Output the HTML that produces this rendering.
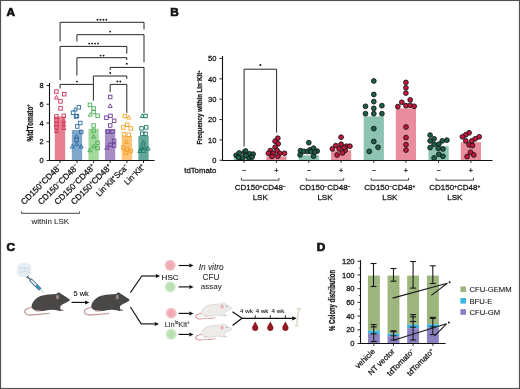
<!DOCTYPE html>
<html><head><meta charset="utf-8"><title>Figure</title><style>
html,body{margin:0;padding:0;background:#fff;}
body{width:520px;height:389px;overflow:hidden;}
svg{display:block;font-family:"Liberation Sans", sans-serif;filter:blur(0.3px);}
text{stroke:#151515;stroke-width:0.26px;}
</style></head><body>
<svg width="520" height="389" viewBox="0 0 520 389">
<rect x="0" y="0" width="520" height="389" fill="#fff"/>
<rect x="54.85" y="116.50" width="10.30" height="44.00" fill="#e9808f"/>
<rect x="71.85" y="130.00" width="10.30" height="30.50" fill="#7fa7cc"/>
<rect x="88.45" y="128.80" width="10.30" height="31.70" fill="#a3d99d"/>
<rect x="104.95" y="129.00" width="10.30" height="31.50" fill="#a68dc4"/>
<rect x="121.75" y="136.00" width="10.30" height="24.50" fill="#fdc376"/>
<rect x="138.35" y="136.00" width="10.30" height="24.50" fill="#62a898"/>
<rect x="54.65" y="89.85" width="3.5" height="3.5" fill="none" stroke="#d0345a" stroke-width="0.9"/>
<rect x="62.45" y="92.45" width="3.5" height="3.5" fill="none" stroke="#d0345a" stroke-width="0.9"/>
<path d="M56.40,95.30 L58.40,99.00 L54.40,99.00 Z" fill="none" stroke="#d0345a" stroke-width="0.9" stroke-linejoin="round"/>
<rect x="58.75" y="99.65" width="3.5" height="3.5" fill="none" stroke="#d0345a" stroke-width="0.9"/>
<rect x="58.75" y="106.65" width="3.5" height="3.5" fill="none" stroke="#d0345a" stroke-width="0.9"/>
<rect x="54.65" y="114.65" width="3.5" height="3.5" fill="none" stroke="#d0345a" stroke-width="0.9"/>
<rect x="62.05" y="114.05" width="3.5" height="3.5" fill="none" stroke="#d0345a" stroke-width="0.9"/>
<rect x="54.65" y="118.55" width="3.5" height="3.5" fill="none" stroke="#d0345a" stroke-width="0.9"/>
<path d="M63.80,119.00 L65.80,122.70 L61.80,122.70 Z" fill="none" stroke="#d0345a" stroke-width="0.9" stroke-linejoin="round"/>
<rect x="54.65" y="122.35" width="3.5" height="3.5" fill="none" stroke="#d0345a" stroke-width="0.9"/>
<path d="M63.80,122.30 L65.80,126.00 L61.80,126.00 Z" fill="none" stroke="#d0345a" stroke-width="0.9" stroke-linejoin="round"/>
<rect x="54.65" y="125.65" width="3.5" height="3.5" fill="none" stroke="#d0345a" stroke-width="0.9"/>
<path d="M63.80,125.80 L65.80,129.50 L61.80,129.50 Z" fill="none" stroke="#d0345a" stroke-width="0.9" stroke-linejoin="round"/>
<path d="M56.40,128.80 L58.40,132.50 L54.40,132.50 Z" fill="none" stroke="#d0345a" stroke-width="0.9" stroke-linejoin="round"/>
<rect x="77.05" y="105.55" width="3.5" height="3.5" fill="none" stroke="#2d6a9f" stroke-width="0.9"/>
<path d="M75.20,107.40 L77.20,111.10 L73.20,111.10 Z" fill="none" stroke="#2d6a9f" stroke-width="0.9" stroke-linejoin="round"/>
<rect x="71.35" y="110.95" width="3.5" height="3.5" fill="none" stroke="#2d6a9f" stroke-width="0.9"/>
<rect x="75.15" y="114.25" width="3.5" height="3.5" fill="none" stroke="#2d6a9f" stroke-width="0.9"/>
<rect x="78.55" y="121.25" width="3.5" height="3.5" fill="none" stroke="#2d6a9f" stroke-width="0.9"/>
<rect x="75.45" y="124.75" width="3.5" height="3.5" fill="none" stroke="#2d6a9f" stroke-width="0.9"/>
<rect x="79.45" y="130.15" width="3.5" height="3.5" fill="none" stroke="#2d6a9f" stroke-width="0.9"/>
<path d="M76.60,134.50 L78.60,138.20 L74.60,138.20 Z" fill="none" stroke="#2d6a9f" stroke-width="0.9" stroke-linejoin="round"/>
<rect x="74.85" y="138.05" width="3.5" height="3.5" fill="none" stroke="#2d6a9f" stroke-width="0.9"/>
<path d="M72.30,144.40 L74.30,148.10 L70.30,148.10 Z" fill="none" stroke="#2d6a9f" stroke-width="0.9" stroke-linejoin="round"/>
<path d="M76.80,141.80 L78.80,145.50 L74.80,145.50 Z" fill="none" stroke="#2d6a9f" stroke-width="0.9" stroke-linejoin="round"/>
<path d="M81.20,144.40 L83.20,148.10 L79.20,148.10 Z" fill="none" stroke="#2d6a9f" stroke-width="0.9" stroke-linejoin="round"/>
<rect x="74.25" y="114.65" width="3.5" height="3.5" fill="none" stroke="#2d6a9f" stroke-width="0.9"/>
<rect x="88.15" y="103.15" width="3.5" height="3.5" fill="none" stroke="#4cae55" stroke-width="0.9"/>
<rect x="91.85" y="106.75" width="3.5" height="3.5" fill="none" stroke="#4cae55" stroke-width="0.9"/>
<rect x="91.85" y="110.25" width="3.5" height="3.5" fill="none" stroke="#4cae55" stroke-width="0.9"/>
<path d="M90.20,112.50 L92.20,116.20 L88.20,116.20 Z" fill="none" stroke="#4cae55" stroke-width="0.9" stroke-linejoin="round"/>
<rect x="95.85" y="113.95" width="3.5" height="3.5" fill="none" stroke="#4cae55" stroke-width="0.9"/>
<rect x="91.85" y="123.75" width="3.5" height="3.5" fill="none" stroke="#4cae55" stroke-width="0.9"/>
<rect x="91.85" y="128.85" width="3.5" height="3.5" fill="none" stroke="#4cae55" stroke-width="0.9"/>
<path d="M93.60,134.50 L95.60,138.20 L91.60,138.20 Z" fill="none" stroke="#4cae55" stroke-width="0.9" stroke-linejoin="round"/>
<rect x="95.85" y="141.15" width="3.5" height="3.5" fill="none" stroke="#4cae55" stroke-width="0.9"/>
<path d="M93.60,144.10 L95.60,147.80 L91.60,147.80 Z" fill="none" stroke="#4cae55" stroke-width="0.9" stroke-linejoin="round"/>
<rect x="95.85" y="146.35" width="3.5" height="3.5" fill="none" stroke="#4cae55" stroke-width="0.9"/>
<path d="M89.90,148.00 L91.90,151.70 L87.90,151.70 Z" fill="none" stroke="#4cae55" stroke-width="0.9" stroke-linejoin="round"/>
<rect x="108.45" y="95.25" width="3.5" height="3.5" fill="none" stroke="#6b3d98" stroke-width="0.9"/>
<path d="M110.20,103.80 L112.20,107.50 L108.20,107.50 Z" fill="none" stroke="#6b3d98" stroke-width="0.9" stroke-linejoin="round"/>
<rect x="104.65" y="115.95" width="3.5" height="3.5" fill="none" stroke="#6b3d98" stroke-width="0.9"/>
<rect x="108.75" y="114.15" width="3.5" height="3.5" fill="none" stroke="#6b3d98" stroke-width="0.9"/>
<rect x="112.35" y="119.05" width="3.5" height="3.5" fill="none" stroke="#6b3d98" stroke-width="0.9"/>
<rect x="108.45" y="123.75" width="3.5" height="3.5" fill="none" stroke="#6b3d98" stroke-width="0.9"/>
<rect x="106.15" y="129.85" width="3.5" height="3.5" fill="none" stroke="#6b3d98" stroke-width="0.9"/>
<rect x="110.75" y="129.85" width="3.5" height="3.5" fill="none" stroke="#6b3d98" stroke-width="0.9"/>
<rect x="112.35" y="139.15" width="3.5" height="3.5" fill="none" stroke="#6b3d98" stroke-width="0.9"/>
<rect x="112.35" y="143.75" width="3.5" height="3.5" fill="none" stroke="#6b3d98" stroke-width="0.9"/>
<rect x="108.75" y="143.05" width="3.5" height="3.5" fill="none" stroke="#6b3d98" stroke-width="0.9"/>
<path d="M106.80,145.60 L108.80,149.30 L104.80,149.30 Z" fill="none" stroke="#6b3d98" stroke-width="0.9" stroke-linejoin="round"/>
<rect x="123.05" y="114.25" width="3.5" height="3.5" fill="none" stroke="#f5a128" stroke-width="0.9"/>
<path d="M128.80,115.30 L130.80,119.00 L126.80,119.00 Z" fill="none" stroke="#f5a128" stroke-width="0.9" stroke-linejoin="round"/>
<rect x="125.45" y="122.95" width="3.5" height="3.5" fill="none" stroke="#f5a128" stroke-width="0.9"/>
<rect x="121.45" y="125.65" width="3.5" height="3.5" fill="none" stroke="#f5a128" stroke-width="0.9"/>
<rect x="128.95" y="126.65" width="3.5" height="3.5" fill="none" stroke="#f5a128" stroke-width="0.9"/>
<rect x="122.25" y="132.55" width="3.5" height="3.5" fill="none" stroke="#f5a128" stroke-width="0.9"/>
<rect x="127.05" y="133.05" width="3.5" height="3.5" fill="none" stroke="#f5a128" stroke-width="0.9"/>
<path d="M126.40,139.60 L128.40,143.30 L124.40,143.30 Z" fill="none" stroke="#f5a128" stroke-width="0.9" stroke-linejoin="round"/>
<rect x="121.45" y="145.75" width="3.5" height="3.5" fill="none" stroke="#f5a128" stroke-width="0.9"/>
<rect x="125.45" y="147.65" width="3.5" height="3.5" fill="none" stroke="#f5a128" stroke-width="0.9"/>
<rect x="128.95" y="149.25" width="3.5" height="3.5" fill="none" stroke="#f5a128" stroke-width="0.9"/>
<rect x="124.15" y="150.85" width="3.5" height="3.5" fill="none" stroke="#f5a128" stroke-width="0.9"/>
<path d="M142.30,113.80 L144.30,117.50 L140.30,117.50 Z" fill="none" stroke="#1f7a67" stroke-width="0.9" stroke-linejoin="round"/>
<rect x="143.75" y="114.25" width="3.5" height="3.5" fill="none" stroke="#1f7a67" stroke-width="0.9"/>
<rect x="139.75" y="126.65" width="3.5" height="3.5" fill="none" stroke="#1f7a67" stroke-width="0.9"/>
<rect x="144.55" y="125.65" width="3.5" height="3.5" fill="none" stroke="#1f7a67" stroke-width="0.9"/>
<rect x="140.55" y="132.05" width="3.5" height="3.5" fill="none" stroke="#1f7a67" stroke-width="0.9"/>
<rect x="143.75" y="132.05" width="3.5" height="3.5" fill="none" stroke="#1f7a67" stroke-width="0.9"/>
<path d="M143.40,140.50 L145.40,144.20 L141.40,144.20 Z" fill="none" stroke="#1f7a67" stroke-width="0.9" stroke-linejoin="round"/>
<path d="M141.50,145.60 L143.50,149.30 L139.50,149.30 Z" fill="none" stroke="#1f7a67" stroke-width="0.9" stroke-linejoin="round"/>
<path d="M144.70,145.60 L146.70,149.30 L142.70,149.30 Z" fill="none" stroke="#1f7a67" stroke-width="0.9" stroke-linejoin="round"/>
<path d="M148.20,146.40 L150.20,150.10 L146.20,150.10 Z" fill="none" stroke="#1f7a67" stroke-width="0.9" stroke-linejoin="round"/>
<path d="M139.90,148.80 L141.90,152.50 L137.90,152.50 Z" fill="none" stroke="#1f7a67" stroke-width="0.9" stroke-linejoin="round"/>
<rect x="141.65" y="148.95" width="3.5" height="3.5" fill="none" stroke="#1f7a67" stroke-width="0.9"/>
<line x1="49.50" y1="83.00" x2="49.50" y2="161.00" stroke="#111" stroke-width="1.1"/>
<line x1="49.00" y1="160.50" x2="154.50" y2="160.50" stroke="#111" stroke-width="1.1"/>
<line x1="46.50" y1="160.50" x2="49.50" y2="160.50" stroke="#111" stroke-width="0.9"/>
<text x="43.60" y="163.10" font-size="7.4" text-anchor="end" fill="#151515" >0</text>
<line x1="46.50" y1="141.75" x2="49.50" y2="141.75" stroke="#111" stroke-width="0.9"/>
<text x="43.60" y="144.35" font-size="7.4" text-anchor="end" fill="#151515" >2</text>
<line x1="46.50" y1="123.00" x2="49.50" y2="123.00" stroke="#111" stroke-width="0.9"/>
<text x="43.60" y="125.60" font-size="7.4" text-anchor="end" fill="#151515" >4</text>
<line x1="46.50" y1="104.25" x2="49.50" y2="104.25" stroke="#111" stroke-width="0.9"/>
<text x="43.60" y="106.85" font-size="7.4" text-anchor="end" fill="#151515" >6</text>
<line x1="46.50" y1="85.50" x2="49.50" y2="85.50" stroke="#111" stroke-width="0.9"/>
<text x="43.60" y="88.10" font-size="7.4" text-anchor="end" fill="#151515" >8</text>
<line x1="60.00" y1="160.50" x2="60.00" y2="163.10" stroke="#111" stroke-width="0.9"/>
<line x1="77.00" y1="160.50" x2="77.00" y2="163.10" stroke="#111" stroke-width="0.9"/>
<line x1="93.60" y1="160.50" x2="93.60" y2="163.10" stroke="#111" stroke-width="0.9"/>
<line x1="110.10" y1="160.50" x2="110.10" y2="163.10" stroke="#111" stroke-width="0.9"/>
<line x1="126.90" y1="160.50" x2="126.90" y2="163.10" stroke="#111" stroke-width="0.9"/>
<line x1="143.50" y1="160.50" x2="143.50" y2="163.10" stroke="#111" stroke-width="0.9"/>
<text transform="translate(32.7,141.4) rotate(-90)" font-size="8.2" font-weight="bold" fill="#151515" textLength="37" lengthAdjust="spacingAndGlyphs">%tdTomato<tspan font-size="4.8" dy="-3">+</tspan></text>
<polyline points="60.10,41.50 60.10,22.30 144.00,22.30 144.00,29.60" fill="none" stroke="#262626" stroke-width="1.0"/>
<polyline points="76.90,41.50 76.90,34.70 144.00,34.70 144.00,62.30" fill="none" stroke="#262626" stroke-width="1.0"/>
<polyline points="60.10,80.20 60.10,46.40 126.80,46.40 126.80,53.70" fill="none" stroke="#262626" stroke-width="1.0"/>
<polyline points="76.90,75.60 76.90,57.70 126.80,57.70 126.80,60.00" fill="none" stroke="#262626" stroke-width="1.0"/>
<polyline points="110.20,70.10 110.20,67.40 144.00,67.40 144.00,112.80" fill="none" stroke="#262626" stroke-width="1.0"/>
<polyline points="93.40,84.40 93.40,76.00 126.80,76.00 126.80,78.90" fill="none" stroke="#262626" stroke-width="1.0"/>
<polyline points="60.10,88.40 60.10,84.40 93.40,84.40 93.40,100.70" fill="none" stroke="#262626" stroke-width="1.0"/>
<polyline points="110.20,92.00 110.20,84.40 126.80,84.40 126.80,112.80" fill="none" stroke="#262626" stroke-width="1.0"/>
<circle cx="97.48" cy="19.80" r="0.95" fill="#151515"/>
<circle cx="100.43" cy="19.80" r="0.95" fill="#151515"/>
<circle cx="103.38" cy="19.80" r="0.95" fill="#151515"/>
<circle cx="106.33" cy="19.80" r="0.95" fill="#151515"/>
<circle cx="110.20" cy="31.60" r="0.95" fill="#151515"/>
<circle cx="89.17" cy="43.60" r="0.95" fill="#151515"/>
<circle cx="92.12" cy="43.60" r="0.95" fill="#151515"/>
<circle cx="95.08" cy="43.60" r="0.95" fill="#151515"/>
<circle cx="98.03" cy="43.60" r="0.95" fill="#151515"/>
<circle cx="100.62" cy="55.60" r="0.95" fill="#151515"/>
<circle cx="103.58" cy="55.60" r="0.95" fill="#151515"/>
<circle cx="126.80" cy="63.80" r="0.95" fill="#151515"/>
<circle cx="110.20" cy="73.00" r="0.95" fill="#151515"/>
<circle cx="76.90" cy="81.60" r="0.95" fill="#151515"/>
<circle cx="117.33" cy="81.50" r="0.95" fill="#151515"/>
<circle cx="120.28" cy="81.50" r="0.95" fill="#151515"/>
<text transform="translate(61.90,167.60) rotate(-45)" font-size="8.4" text-anchor="end" fill="#151515"><tspan dy="0">CD150</tspan><tspan font-size="5.0" dy="-2.9">+</tspan><tspan dy="2.9">CD48</tspan><tspan font-size="5.0" dy="-2.9">−</tspan></text>
<text transform="translate(78.90,167.60) rotate(-45)" font-size="8.4" text-anchor="end" fill="#151515"><tspan dy="0">CD150</tspan><tspan font-size="5.0" dy="-2.9">−</tspan><tspan dy="2.9">CD48</tspan><tspan font-size="5.0" dy="-2.9">−</tspan></text>
<text transform="translate(95.50,167.60) rotate(-45)" font-size="8.4" text-anchor="end" fill="#151515"><tspan dy="0">CD150</tspan><tspan font-size="5.0" dy="-2.9">−</tspan><tspan dy="2.9">CD48</tspan><tspan font-size="5.0" dy="-2.9">+</tspan></text>
<text transform="translate(112.00,167.60) rotate(-45)" font-size="8.4" text-anchor="end" fill="#151515"><tspan dy="0">CD150</tspan><tspan font-size="5.0" dy="-2.9">+</tspan><tspan dy="2.9">CD48</tspan><tspan font-size="5.0" dy="-2.9">+</tspan></text>
<text transform="translate(128.80,167.60) rotate(-45)" font-size="8.4" text-anchor="end" fill="#151515" textLength="41.5" lengthAdjust="spacingAndGlyphs"><tspan dy="0">Lin</tspan><tspan font-size="5.0" dy="-2.9">−</tspan><tspan dy="2.9">Kit</tspan><tspan font-size="5.0" dy="-2.9">+</tspan><tspan dy="2.9">Sca</tspan><tspan font-size="5.0" dy="-2.9">−</tspan></text>
<text transform="translate(145.40,167.60) rotate(-45)" font-size="8.4" text-anchor="end" fill="#151515" textLength="25.3" lengthAdjust="spacingAndGlyphs"><tspan dy="0">Lin</tspan><tspan font-size="5.0" dy="-2.9">−</tspan><tspan dy="2.9">Kit</tspan><tspan font-size="5.0" dy="-2.9">+</tspan></text>
<polyline points="21.50,211.50 21.50,213.30 79.50,213.30 79.50,211.50" fill="none" stroke="#333" stroke-width="0.9"/>
<text x="50.30" y="224.00" font-size="8.0" text-anchor="middle" fill="#151515" style="stroke-width:0.04px">within LSK</text>
<rect x="233.90" y="154.60" width="20.20" height="5.65" fill="#8cc3b2"/>
<rect x="266.30" y="156.40" width="20.20" height="3.85" fill="#e98c9c"/>
<rect x="298.70" y="155.30" width="20.20" height="4.95" fill="#8cc3b2"/>
<rect x="331.00" y="150.30" width="20.20" height="9.95" fill="#e98c9c"/>
<rect x="363.70" y="116.40" width="20.20" height="43.85" fill="#8cc3b2"/>
<rect x="395.80" y="108.40" width="20.20" height="51.85" fill="#e98c9c"/>
<rect x="428.50" y="146.20" width="20.20" height="14.05" fill="#8cc3b2"/>
<rect x="460.80" y="142.20" width="20.20" height="18.05" fill="#e98c9c"/>
<polyline points="244.10,146.50 244.10,69.20 276.60,69.20 276.60,132.50" fill="none" stroke="#262626" stroke-width="1.0"/>
<circle cx="260.4" cy="65.0" r="1.05" fill="#151515"/>
<circle cx="236.10" cy="155.30" r="2.4" fill="#1d6049" stroke="#111" stroke-width="0.85"/>
<circle cx="239.20" cy="153.00" r="2.4" fill="#1d6049" stroke="#111" stroke-width="0.85"/>
<circle cx="244.40" cy="152.40" r="2.4" fill="#1d6049" stroke="#111" stroke-width="0.85"/>
<circle cx="245.60" cy="151.00" r="2.4" fill="#1d6049" stroke="#111" stroke-width="0.85"/>
<circle cx="249.60" cy="153.80" r="2.4" fill="#1d6049" stroke="#111" stroke-width="0.85"/>
<circle cx="253.10" cy="154.10" r="2.4" fill="#1d6049" stroke="#111" stroke-width="0.85"/>
<circle cx="242.40" cy="157.90" r="2.4" fill="#1d6049" stroke="#111" stroke-width="0.85"/>
<circle cx="249.00" cy="157.90" r="2.4" fill="#1d6049" stroke="#111" stroke-width="0.85"/>
<circle cx="238.50" cy="157.50" r="2.4" fill="#1d6049" stroke="#111" stroke-width="0.85"/>
<circle cx="246.00" cy="155.50" r="2.4" fill="#1d6049" stroke="#111" stroke-width="0.85"/>
<circle cx="252.00" cy="157.00" r="2.4" fill="#1d6049" stroke="#111" stroke-width="0.85"/>
<circle cx="308.80" cy="142.70" r="2.4" fill="#1d6049" stroke="#111" stroke-width="0.85"/>
<circle cx="300.50" cy="150.70" r="2.4" fill="#1d6049" stroke="#111" stroke-width="0.85"/>
<circle cx="303.70" cy="151.40" r="2.4" fill="#1d6049" stroke="#111" stroke-width="0.85"/>
<circle cx="307.50" cy="151.40" r="2.4" fill="#1d6049" stroke="#111" stroke-width="0.85"/>
<circle cx="310.10" cy="149.80" r="2.4" fill="#1d6049" stroke="#111" stroke-width="0.85"/>
<circle cx="313.60" cy="148.20" r="2.4" fill="#1d6049" stroke="#111" stroke-width="0.85"/>
<circle cx="317.20" cy="151.10" r="2.4" fill="#1d6049" stroke="#111" stroke-width="0.85"/>
<circle cx="300.10" cy="154.90" r="2.4" fill="#1d6049" stroke="#111" stroke-width="0.85"/>
<circle cx="313.60" cy="156.20" r="2.4" fill="#1d6049" stroke="#111" stroke-width="0.85"/>
<circle cx="311.00" cy="151.70" r="2.4" fill="#1d6049" stroke="#111" stroke-width="0.85"/>
<circle cx="314.90" cy="152.00" r="2.4" fill="#1d6049" stroke="#111" stroke-width="0.85"/>
<circle cx="373.80" cy="81.00" r="2.4" fill="#1d6049" stroke="#111" stroke-width="0.85"/>
<circle cx="373.80" cy="94.50" r="2.4" fill="#1d6049" stroke="#111" stroke-width="0.85"/>
<circle cx="373.80" cy="101.60" r="2.4" fill="#1d6049" stroke="#111" stroke-width="0.85"/>
<circle cx="365.50" cy="106.30" r="2.4" fill="#1d6049" stroke="#111" stroke-width="0.85"/>
<circle cx="373.80" cy="108.40" r="2.4" fill="#1d6049" stroke="#111" stroke-width="0.85"/>
<circle cx="381.90" cy="105.70" r="2.4" fill="#1d6049" stroke="#111" stroke-width="0.85"/>
<circle cx="365.50" cy="113.70" r="2.4" fill="#1d6049" stroke="#111" stroke-width="0.85"/>
<circle cx="373.80" cy="113.70" r="2.4" fill="#1d6049" stroke="#111" stroke-width="0.85"/>
<circle cx="381.90" cy="113.70" r="2.4" fill="#1d6049" stroke="#111" stroke-width="0.85"/>
<circle cx="373.80" cy="128.60" r="2.4" fill="#1d6049" stroke="#111" stroke-width="0.85"/>
<circle cx="373.80" cy="141.50" r="2.4" fill="#1d6049" stroke="#111" stroke-width="0.85"/>
<circle cx="378.00" cy="147.30" r="2.4" fill="#1d6049" stroke="#111" stroke-width="0.85"/>
<circle cx="369.30" cy="151.40" r="2.4" fill="#1d6049" stroke="#111" stroke-width="0.85"/>
<circle cx="430.10" cy="135.10" r="2.4" fill="#1d6049" stroke="#111" stroke-width="0.85"/>
<circle cx="434.10" cy="138.80" r="2.4" fill="#1d6049" stroke="#111" stroke-width="0.85"/>
<circle cx="430.10" cy="140.90" r="2.4" fill="#1d6049" stroke="#111" stroke-width="0.85"/>
<circle cx="442.20" cy="140.90" r="2.4" fill="#1d6049" stroke="#111" stroke-width="0.85"/>
<circle cx="446.90" cy="140.20" r="2.4" fill="#1d6049" stroke="#111" stroke-width="0.85"/>
<circle cx="434.10" cy="144.20" r="2.4" fill="#1d6049" stroke="#111" stroke-width="0.85"/>
<circle cx="438.80" cy="144.20" r="2.4" fill="#1d6049" stroke="#111" stroke-width="0.85"/>
<circle cx="430.10" cy="147.60" r="2.4" fill="#1d6049" stroke="#111" stroke-width="0.85"/>
<circle cx="438.20" cy="148.30" r="2.4" fill="#1d6049" stroke="#111" stroke-width="0.85"/>
<circle cx="442.90" cy="149.00" r="2.4" fill="#1d6049" stroke="#111" stroke-width="0.85"/>
<circle cx="438.80" cy="154.30" r="2.4" fill="#1d6049" stroke="#111" stroke-width="0.85"/>
<circle cx="442.90" cy="156.30" r="2.4" fill="#1d6049" stroke="#111" stroke-width="0.85"/>
<circle cx="434.10" cy="158.00" r="2.4" fill="#1d6049" stroke="#111" stroke-width="0.85"/>
<circle cx="277.80" cy="138.20" r="2.4" fill="#c4173d" stroke="#111" stroke-width="0.85"/>
<circle cx="275.10" cy="141.20" r="2.4" fill="#c4173d" stroke="#111" stroke-width="0.85"/>
<circle cx="278.20" cy="143.80" r="2.4" fill="#c4173d" stroke="#111" stroke-width="0.85"/>
<circle cx="275.10" cy="147.20" r="2.4" fill="#c4173d" stroke="#111" stroke-width="0.85"/>
<circle cx="270.40" cy="150.60" r="2.4" fill="#c4173d" stroke="#111" stroke-width="0.85"/>
<circle cx="277.10" cy="150.60" r="2.4" fill="#c4173d" stroke="#111" stroke-width="0.85"/>
<circle cx="268.40" cy="153.30" r="2.4" fill="#c4173d" stroke="#111" stroke-width="0.85"/>
<circle cx="273.10" cy="153.30" r="2.4" fill="#c4173d" stroke="#111" stroke-width="0.85"/>
<circle cx="279.80" cy="153.30" r="2.4" fill="#c4173d" stroke="#111" stroke-width="0.85"/>
<circle cx="284.50" cy="153.30" r="2.4" fill="#c4173d" stroke="#111" stroke-width="0.85"/>
<circle cx="277.80" cy="156.20" r="2.4" fill="#c4173d" stroke="#111" stroke-width="0.85"/>
<circle cx="272.00" cy="156.40" r="2.4" fill="#c4173d" stroke="#111" stroke-width="0.85"/>
<circle cx="341.10" cy="137.20" r="2.4" fill="#c4173d" stroke="#111" stroke-width="0.85"/>
<circle cx="335.80" cy="145.60" r="2.4" fill="#c4173d" stroke="#111" stroke-width="0.85"/>
<circle cx="341.10" cy="144.20" r="2.4" fill="#c4173d" stroke="#111" stroke-width="0.85"/>
<circle cx="346.50" cy="146.20" r="2.4" fill="#c4173d" stroke="#111" stroke-width="0.85"/>
<circle cx="349.90" cy="146.20" r="2.4" fill="#c4173d" stroke="#111" stroke-width="0.85"/>
<circle cx="332.40" cy="148.90" r="2.4" fill="#c4173d" stroke="#111" stroke-width="0.85"/>
<circle cx="339.10" cy="148.90" r="2.4" fill="#c4173d" stroke="#111" stroke-width="0.85"/>
<circle cx="345.20" cy="150.30" r="2.4" fill="#c4173d" stroke="#111" stroke-width="0.85"/>
<circle cx="342.50" cy="153.00" r="2.4" fill="#c4173d" stroke="#111" stroke-width="0.85"/>
<circle cx="337.10" cy="155.00" r="2.4" fill="#c4173d" stroke="#111" stroke-width="0.85"/>
<circle cx="344.00" cy="147.50" r="2.4" fill="#c4173d" stroke="#111" stroke-width="0.85"/>
<circle cx="405.90" cy="82.40" r="2.4" fill="#c4173d" stroke="#111" stroke-width="0.85"/>
<circle cx="405.90" cy="87.80" r="2.4" fill="#c4173d" stroke="#111" stroke-width="0.85"/>
<circle cx="405.90" cy="93.10" r="2.4" fill="#c4173d" stroke="#111" stroke-width="0.85"/>
<circle cx="401.80" cy="102.30" r="2.4" fill="#c4173d" stroke="#111" stroke-width="0.85"/>
<circle cx="410.20" cy="99.90" r="2.4" fill="#c4173d" stroke="#111" stroke-width="0.85"/>
<circle cx="397.80" cy="106.60" r="2.4" fill="#c4173d" stroke="#111" stroke-width="0.85"/>
<circle cx="405.90" cy="105.70" r="2.4" fill="#c4173d" stroke="#111" stroke-width="0.85"/>
<circle cx="410.20" cy="105.30" r="2.4" fill="#c4173d" stroke="#111" stroke-width="0.85"/>
<circle cx="414.20" cy="106.30" r="2.4" fill="#c4173d" stroke="#111" stroke-width="0.85"/>
<circle cx="406.00" cy="127.00" r="2.4" fill="#c4173d" stroke="#111" stroke-width="0.85"/>
<circle cx="406.00" cy="137.60" r="2.4" fill="#c4173d" stroke="#111" stroke-width="0.85"/>
<circle cx="406.00" cy="144.70" r="2.4" fill="#c4173d" stroke="#111" stroke-width="0.85"/>
<circle cx="406.00" cy="150.10" r="2.4" fill="#c4173d" stroke="#111" stroke-width="0.85"/>
<circle cx="469.10" cy="132.80" r="2.4" fill="#c4173d" stroke="#111" stroke-width="0.85"/>
<circle cx="465.80" cy="134.80" r="2.4" fill="#c4173d" stroke="#111" stroke-width="0.85"/>
<circle cx="462.40" cy="136.80" r="2.4" fill="#c4173d" stroke="#111" stroke-width="0.85"/>
<circle cx="479.20" cy="136.80" r="2.4" fill="#c4173d" stroke="#111" stroke-width="0.85"/>
<circle cx="475.20" cy="138.80" r="2.4" fill="#c4173d" stroke="#111" stroke-width="0.85"/>
<circle cx="465.80" cy="140.90" r="2.4" fill="#c4173d" stroke="#111" stroke-width="0.85"/>
<circle cx="471.80" cy="140.90" r="2.4" fill="#c4173d" stroke="#111" stroke-width="0.85"/>
<circle cx="469.10" cy="144.90" r="2.4" fill="#c4173d" stroke="#111" stroke-width="0.85"/>
<circle cx="472.50" cy="145.60" r="2.4" fill="#c4173d" stroke="#111" stroke-width="0.85"/>
<circle cx="470.50" cy="152.30" r="2.4" fill="#c4173d" stroke="#111" stroke-width="0.85"/>
<circle cx="473.80" cy="155.00" r="2.4" fill="#c4173d" stroke="#111" stroke-width="0.85"/>
<circle cx="467.10" cy="156.60" r="2.4" fill="#c4173d" stroke="#111" stroke-width="0.85"/>
<line x1="222.50" y1="56.00" x2="222.50" y2="161.00" stroke="#111" stroke-width="1.1"/>
<line x1="222.00" y1="160.50" x2="492.50" y2="160.50" stroke="#111" stroke-width="1.1"/>
<line x1="219.50" y1="160.25" x2="222.50" y2="160.25" stroke="#111" stroke-width="0.9"/>
<text x="216.40" y="162.95" font-size="7.5" text-anchor="end" fill="#151515" >0</text>
<line x1="219.50" y1="139.90" x2="222.50" y2="139.90" stroke="#111" stroke-width="0.9"/>
<text x="216.40" y="142.60" font-size="7.5" text-anchor="end" fill="#151515" >10</text>
<line x1="219.50" y1="119.55" x2="222.50" y2="119.55" stroke="#111" stroke-width="0.9"/>
<text x="216.40" y="122.25" font-size="7.5" text-anchor="end" fill="#151515" >20</text>
<line x1="219.50" y1="99.20" x2="222.50" y2="99.20" stroke="#111" stroke-width="0.9"/>
<text x="216.40" y="101.90" font-size="7.5" text-anchor="end" fill="#151515" >30</text>
<line x1="219.50" y1="78.85" x2="222.50" y2="78.85" stroke="#111" stroke-width="0.9"/>
<text x="216.40" y="81.55" font-size="7.5" text-anchor="end" fill="#151515" >40</text>
<line x1="219.50" y1="58.50" x2="222.50" y2="58.50" stroke="#111" stroke-width="0.9"/>
<text x="216.40" y="61.20" font-size="7.5" text-anchor="end" fill="#151515" >50</text>
<line x1="244.00" y1="160.25" x2="244.00" y2="162.85" stroke="#111" stroke-width="0.9"/>
<line x1="276.40" y1="160.25" x2="276.40" y2="162.85" stroke="#111" stroke-width="0.9"/>
<text x="244.00" y="173.20" font-size="7.2" text-anchor="middle" fill="#151515" >−</text>
<text x="276.40" y="173.20" font-size="7.2" text-anchor="middle" fill="#151515" >+</text>
<line x1="308.80" y1="160.25" x2="308.80" y2="162.85" stroke="#111" stroke-width="0.9"/>
<line x1="341.10" y1="160.25" x2="341.10" y2="162.85" stroke="#111" stroke-width="0.9"/>
<text x="308.80" y="173.20" font-size="7.2" text-anchor="middle" fill="#151515" >−</text>
<text x="341.10" y="173.20" font-size="7.2" text-anchor="middle" fill="#151515" >+</text>
<line x1="373.80" y1="160.25" x2="373.80" y2="162.85" stroke="#111" stroke-width="0.9"/>
<line x1="405.90" y1="160.25" x2="405.90" y2="162.85" stroke="#111" stroke-width="0.9"/>
<text x="373.80" y="173.20" font-size="7.2" text-anchor="middle" fill="#151515" >−</text>
<text x="405.90" y="173.20" font-size="7.2" text-anchor="middle" fill="#151515" >+</text>
<line x1="438.60" y1="160.25" x2="438.60" y2="162.85" stroke="#111" stroke-width="0.9"/>
<line x1="470.90" y1="160.25" x2="470.90" y2="162.85" stroke="#111" stroke-width="0.9"/>
<text x="438.60" y="173.20" font-size="7.2" text-anchor="middle" fill="#151515" >−</text>
<text x="470.90" y="173.20" font-size="7.2" text-anchor="middle" fill="#151515" >+</text>
<text x="216.30" y="173.20" font-size="7.8" text-anchor="end" fill="#151515" >tdTomato</text>
<text transform="translate(202.4,144.6) rotate(-90)" font-size="7.2" font-weight="bold" fill="#151515" textLength="74" lengthAdjust="spacingAndGlyphs">Frequency within Lin<tspan font-size="4.4" dy="-2.7">−</tspan><tspan dy="2.7">Kit</tspan><tspan font-size="4.4" dy="-2.7">+</tspan></text>
<polyline points="241.40,178.00 241.40,180.20 279.00,180.20 279.00,178.00" fill="none" stroke="#333" stroke-width="0.9"/>
<text x="260.20" y="190.4" font-size="8.0" text-anchor="middle" fill="#151515">CD150<tspan font-size="4.8" dy="-2.9">+</tspan><tspan dy="2.9">CD48</tspan><tspan font-size="4.8" dy="-2.9">−</tspan></text>
<text x="260.20" y="200.00" font-size="8.0" text-anchor="middle" fill="#151515" >LSK</text>
<polyline points="306.20,178.00 306.20,180.20 343.70,180.20 343.70,178.00" fill="none" stroke="#333" stroke-width="0.9"/>
<text x="324.95" y="190.4" font-size="8.0" text-anchor="middle" fill="#151515">CD150<tspan font-size="4.8" dy="-2.9">−</tspan><tspan dy="2.9">CD48</tspan><tspan font-size="4.8" dy="-2.9">−</tspan></text>
<text x="324.95" y="200.00" font-size="8.0" text-anchor="middle" fill="#151515" >LSK</text>
<polyline points="371.20,178.00 371.20,180.20 408.50,180.20 408.50,178.00" fill="none" stroke="#333" stroke-width="0.9"/>
<text x="389.85" y="190.4" font-size="8.0" text-anchor="middle" fill="#151515">CD150<tspan font-size="4.8" dy="-2.9">−</tspan><tspan dy="2.9">CD48</tspan><tspan font-size="4.8" dy="-2.9">+</tspan></text>
<text x="389.85" y="200.00" font-size="8.0" text-anchor="middle" fill="#151515" >LSK</text>
<polyline points="436.00,178.00 436.00,180.20 473.50,180.20 473.50,178.00" fill="none" stroke="#333" stroke-width="0.9"/>
<text x="454.75" y="190.4" font-size="8.0" text-anchor="middle" fill="#151515">CD150<tspan font-size="4.8" dy="-2.9">+</tspan><tspan dy="2.9">CD48</tspan><tspan font-size="4.8" dy="-2.9">+</tspan></text>
<text x="454.75" y="200.00" font-size="8.0" text-anchor="middle" fill="#151515" >LSK</text>
<text x="6.6" y="16.2" font-size="11.8" font-weight="bold" fill="#111" style="stroke:#111;stroke-width:0.7px">A</text>
<text x="170.2" y="16.2" font-size="11.8" font-weight="bold" fill="#111" style="stroke:#111;stroke-width:0.7px">B</text>
<text x="6.6" y="251.2" font-size="11.8" font-weight="bold" fill="#111" style="stroke:#111;stroke-width:0.7px">C</text>
<text x="316.8" y="251.2" font-size="11.8" font-weight="bold" fill="#111" style="stroke:#111;stroke-width:0.7px">D</text>
<path d="M20.5,263.0 L27.5,262.6 L31.2,266.2 L31.0,273.6 L27.0,277.2 L20.2,277.0 L16.8,273.0 L17.0,266.2 Z" fill="#e6eef4"/>
<path d="M18.5,268.5 L24,267.5 L29.5,268.8 M19.5,272.5 L25,271.2 L30,272.8 M24,267.5 L25,271.2" stroke="#c9d7e3" stroke-width="0.8" fill="none"/>
<line x1="27.4" y1="276.7" x2="30.4" y2="279.7" stroke="#2f3d4c" stroke-width="1.1"/>
<line x1="26.4" y1="278.0" x2="28.6" y2="275.6" stroke="#2f3d4c" stroke-width="0.8"/>
<line x1="30.2" y1="279.5" x2="40.2" y2="289.4" stroke="#35627f" stroke-width="3.4"/>
<line x1="30.9" y1="280.2" x2="36.2" y2="285.4" stroke="#f4f8fb" stroke-width="1.8"/>
<line x1="36.2" y1="285.4" x2="39.7" y2="288.9" stroke="#3a9cc8" stroke-width="1.9"/>
<line x1="40.2" y1="289.4" x2="43.8" y2="292.8" stroke="#7b93ab" stroke-width="0.6"/>
<g transform="translate(31.30,292.90) scale(1.0,1.0)">
<path d="M0.7,14.5 C-3.0,15.0 -6.0,16.0 -6.6,18.3 C-7.0,20.6 -4.5,22.2 -1.2,22.1 C2.5,22.0 6.0,21.5 8.9,21.3 C12.0,21.0 15.0,20.6 17.7,20.5" fill="none" stroke="#c4a29f" stroke-width="1.4" stroke-linecap="round"/>
<path d="M0.3,14.2 C0.2,12.5 0.8,10.5 2.0,8.8 C3.5,6.5 6.5,4.0 10.1,2.8 C13.5,1.8 16.5,1.5 19.0,1.5 C21.5,1.5 23.5,1.3 25.2,1.2 C25.8,0.4 26.5,-0.3 27.3,-0.3 C28.1,-0.3 28.8,0.0 29.2,0.6 C30.5,1.2 31.5,1.8 32.5,2.6 C34.5,3.8 36.8,5.3 38.4,6.5 C38.6,7.4 38.0,8.2 37.0,8.6 C35.5,9.5 33.6,10.3 32.1,11.0 C30.8,11.6 29.8,12.3 29.2,13.1 C28.8,14.3 28.9,15.6 29.3,16.4 C30.4,16.7 31.6,16.9 32.4,17.3 C32.4,17.9 31.0,18.1 29.8,18.0 C28.5,18.0 27.4,17.9 26.8,17.5 C24.5,17.0 22.4,16.7 20.2,16.8 C17.0,17.0 14.0,17.8 11.4,18.0 C8.8,18.2 6.5,18.2 5.0,17.9 C3.0,17.5 1.2,16.3 0.3,14.2 Z" fill="#4a4747" stroke="none" stroke-width="0.5"/>
<path d="M4.0,17.2 C6.0,17.4 8.5,17.6 10.2,18.0 C9.0,18.8 6.0,18.8 4.2,18.3 Z" fill="#b89a98"/>
<path d="M29.0,16.6 C30.2,16.8 31.6,17.0 32.4,17.4 C32.2,18.0 30.6,18.1 29.4,17.9 Z" fill="#b89a98"/>
<ellipse cx="26.2" cy="4.2" rx="1.5" ry="2.3" fill="#9c8a8a"/>
</g>
<g transform="translate(91.00,292.90) scale(1.0,1.0)">
<path d="M0.7,14.5 C-3.0,15.0 -6.0,16.0 -6.6,18.3 C-7.0,20.6 -4.5,22.2 -1.2,22.1 C2.5,22.0 6.0,21.5 8.9,21.3 C12.0,21.0 15.0,20.6 17.7,20.5" fill="none" stroke="#c4a29f" stroke-width="1.4" stroke-linecap="round"/>
<path d="M0.3,14.2 C0.2,12.5 0.8,10.5 2.0,8.8 C3.5,6.5 6.5,4.0 10.1,2.8 C13.5,1.8 16.5,1.5 19.0,1.5 C21.5,1.5 23.5,1.3 25.2,1.2 C25.8,0.4 26.5,-0.3 27.3,-0.3 C28.1,-0.3 28.8,0.0 29.2,0.6 C30.5,1.2 31.5,1.8 32.5,2.6 C34.5,3.8 36.8,5.3 38.4,6.5 C38.6,7.4 38.0,8.2 37.0,8.6 C35.5,9.5 33.6,10.3 32.1,11.0 C30.8,11.6 29.8,12.3 29.2,13.1 C28.8,14.3 28.9,15.6 29.3,16.4 C30.4,16.7 31.6,16.9 32.4,17.3 C32.4,17.9 31.0,18.1 29.8,18.0 C28.5,18.0 27.4,17.9 26.8,17.5 C24.5,17.0 22.4,16.7 20.2,16.8 C17.0,17.0 14.0,17.8 11.4,18.0 C8.8,18.2 6.5,18.2 5.0,17.9 C3.0,17.5 1.2,16.3 0.3,14.2 Z" fill="#4a4747" stroke="none" stroke-width="0.5"/>
<path d="M4.0,17.2 C6.0,17.4 8.5,17.6 10.2,18.0 C9.0,18.8 6.0,18.8 4.2,18.3 Z" fill="#b89a98"/>
<path d="M29.0,16.6 C30.2,16.8 31.6,17.0 32.4,17.4 C32.2,18.0 30.6,18.1 29.4,17.9 Z" fill="#b89a98"/>
<ellipse cx="26.2" cy="4.2" rx="1.5" ry="2.3" fill="#9c8a8a"/>
</g>
<line x1="71.50" y1="302.40" x2="85.10" y2="302.40" stroke="#111" stroke-width="1.15"/>
<path d="M89.40,302.40 L85.10,304.40 L85.10,300.40 Z" fill="#111"/>
<text x="81.20" y="296.40" font-size="7.4" text-anchor="middle" fill="#151515" style="stroke-width:0.12px">5 wk</text>
<polyline points="130.40,292.60 141.80,276.00" fill="none" stroke="#111" stroke-width="1.15"/>
<line x1="141.50" y1="276.00" x2="155.90" y2="276.00" stroke="#111" stroke-width="1.15"/>
<path d="M160.20,276.00 L155.90,278.00 L155.90,274.00 Z" fill="#111"/>
<polyline points="130.40,307.00 141.20,323.90" fill="none" stroke="#111" stroke-width="1.15"/>
<line x1="140.90" y1="323.90" x2="154.70" y2="323.90" stroke="#111" stroke-width="1.15"/>
<path d="M159.00,323.90 L154.70,325.90 L154.70,321.90 Z" fill="#111"/>
<text x="161.60" y="279.60" font-size="8.1" text-anchor="start" fill="#151515" style="stroke-width:0.12px">HSC</text>
<text x="164.7" y="327.2" font-size="7.8" fill="#2a2a2a" style="stroke-width:0.08px" textLength="25" lengthAdjust="spacingAndGlyphs">Lin<tspan font-size="4.8" dy="-2.9">lo</tspan><tspan dy="2.9">Kit</tspan><tspan font-size="4.8" dy="-2.9">+</tspan></text>
<defs><radialGradient id="gp"><stop offset="0" stop-color="#f0a6ae"/><stop offset="0.65" stop-color="#f2b0b7"/><stop offset="1" stop-color="#f7d3d6"/></radialGradient><radialGradient id="gg"><stop offset="0" stop-color="#b6dfae"/><stop offset="0.65" stop-color="#bee2b6"/><stop offset="1" stop-color="#dcefd7"/></radialGradient></defs>
<circle cx="170.2" cy="265.3" r="5.6" fill="url(#gp)"/>
<circle cx="170.2" cy="286.9" r="5.6" fill="url(#gg)"/>
<circle cx="171.2" cy="313.1" r="5.6" fill="url(#gp)"/>
<circle cx="171.2" cy="334.2" r="5.6" fill="url(#gg)"/>
<line x1="178.60" y1="265.50" x2="189.30" y2="265.50" stroke="#111" stroke-width="1.15"/>
<path d="M193.60,265.50 L189.30,267.50 L189.30,263.50 Z" fill="#111"/>
<line x1="178.60" y1="286.90" x2="189.30" y2="286.90" stroke="#111" stroke-width="1.15"/>
<path d="M193.60,286.90 L189.30,288.90 L189.30,284.90 Z" fill="#111"/>
<line x1="178.60" y1="313.40" x2="189.30" y2="313.40" stroke="#111" stroke-width="1.15"/>
<path d="M193.60,313.40 L189.30,315.40 L189.30,311.40 Z" fill="#111"/>
<line x1="178.60" y1="334.40" x2="189.30" y2="334.40" stroke="#111" stroke-width="1.15"/>
<path d="M193.60,334.40 L189.30,336.40 L189.30,332.40 Z" fill="#111"/>
<text x="211.2" y="269.6" font-size="8.3" font-style="italic" text-anchor="middle" fill="#2a2a2a" style="stroke-width:0.06px">In vitro</text>
<text x="210.90" y="279.50" font-size="8.2" text-anchor="middle" fill="#2a2a2a" style="stroke-width:0.06px">CFU</text>
<text x="211.30" y="288.60" font-size="8.0" text-anchor="middle" fill="#2a2a2a" style="stroke-width:0.06px">assay</text>
<g transform="translate(201.00,303.10) scale(0.8,0.72)">
<path d="M0.7,14.5 C-3.0,15.0 -6.0,16.0 -6.6,18.3 C-7.0,20.6 -4.5,22.2 -1.2,22.1 C2.5,22.0 6.0,21.5 8.9,21.3 C12.0,21.0 15.0,20.6 17.7,20.5" fill="none" stroke="#d49393" stroke-width="1.3" stroke-linecap="round"/>
<path d="M0.3,14.2 C0.2,12.5 0.8,10.5 2.0,8.8 C3.5,6.5 6.5,4.0 10.1,2.8 C13.5,1.8 16.5,1.5 19.0,1.5 C21.5,1.5 23.5,1.3 25.2,1.2 C25.8,0.4 26.5,-0.3 27.3,-0.3 C28.1,-0.3 28.8,0.0 29.2,0.6 C30.5,1.2 31.5,1.8 32.5,2.6 C34.5,3.8 36.8,5.3 38.4,6.5 C38.6,7.4 38.0,8.2 37.0,8.6 C35.5,9.5 33.6,10.3 32.1,11.0 C30.8,11.6 29.8,12.3 29.2,13.1 C28.8,14.3 28.9,15.6 29.3,16.4 C30.4,16.7 31.6,16.9 32.4,17.3 C32.4,17.9 31.0,18.1 29.8,18.0 C28.5,18.0 27.4,17.9 26.8,17.5 C24.5,17.0 22.4,16.7 20.2,16.8 C17.0,17.0 14.0,17.8 11.4,18.0 C8.8,18.2 6.5,18.2 5.0,17.9 C3.0,17.5 1.2,16.3 0.3,14.2 Z" fill="#eeebeb" stroke="#b9b3b3" stroke-width="0.5"/>
<path d="M4.0,17.2 C6.0,17.4 8.5,17.6 10.2,18.0 C9.0,18.8 6.0,18.8 4.2,18.3 Z" fill="#e3c3c3"/>
<path d="M29.0,16.6 C30.2,16.8 31.6,17.0 32.4,17.4 C32.2,18.0 30.6,18.1 29.4,17.9 Z" fill="#e3c3c3"/>
<ellipse cx="26.4" cy="5.0" rx="2.0" ry="3.0" fill="#e6b3b3"/>
<circle cx="32.2" cy="4.6" r="0.75" fill="#8a8080"/>
</g>
<g transform="translate(201.00,324.10) scale(0.8,0.72)">
<path d="M0.7,14.5 C-3.0,15.0 -6.0,16.0 -6.6,18.3 C-7.0,20.6 -4.5,22.2 -1.2,22.1 C2.5,22.0 6.0,21.5 8.9,21.3 C12.0,21.0 15.0,20.6 17.7,20.5" fill="none" stroke="#d49393" stroke-width="1.3" stroke-linecap="round"/>
<path d="M0.3,14.2 C0.2,12.5 0.8,10.5 2.0,8.8 C3.5,6.5 6.5,4.0 10.1,2.8 C13.5,1.8 16.5,1.5 19.0,1.5 C21.5,1.5 23.5,1.3 25.2,1.2 C25.8,0.4 26.5,-0.3 27.3,-0.3 C28.1,-0.3 28.8,0.0 29.2,0.6 C30.5,1.2 31.5,1.8 32.5,2.6 C34.5,3.8 36.8,5.3 38.4,6.5 C38.6,7.4 38.0,8.2 37.0,8.6 C35.5,9.5 33.6,10.3 32.1,11.0 C30.8,11.6 29.8,12.3 29.2,13.1 C28.8,14.3 28.9,15.6 29.3,16.4 C30.4,16.7 31.6,16.9 32.4,17.3 C32.4,17.9 31.0,18.1 29.8,18.0 C28.5,18.0 27.4,17.9 26.8,17.5 C24.5,17.0 22.4,16.7 20.2,16.8 C17.0,17.0 14.0,17.8 11.4,18.0 C8.8,18.2 6.5,18.2 5.0,17.9 C3.0,17.5 1.2,16.3 0.3,14.2 Z" fill="#eeebeb" stroke="#b9b3b3" stroke-width="0.5"/>
<path d="M4.0,17.2 C6.0,17.4 8.5,17.6 10.2,18.0 C9.0,18.8 6.0,18.8 4.2,18.3 Z" fill="#e3c3c3"/>
<path d="M29.0,16.6 C30.2,16.8 31.6,17.0 32.4,17.4 C32.2,18.0 30.6,18.1 29.4,17.9 Z" fill="#e3c3c3"/>
<ellipse cx="26.4" cy="5.0" rx="2.0" ry="3.0" fill="#e6b3b3"/>
<circle cx="32.2" cy="4.6" r="0.75" fill="#8a8080"/>
</g>
<polyline points="232.50,311.80 242.00,318.30 232.50,325.40" fill="none" stroke="#111" stroke-width="1.25"/>
<line x1="242.00" y1="318.30" x2="292.20" y2="318.30" stroke="#111" stroke-width="1.15"/>
<path d="M296.80,318.30 L292.20,320.40 L292.20,316.20 Z" fill="#111"/>
<line x1="255.20" y1="315.20" x2="255.20" y2="318.30" stroke="#111" stroke-width="0.9"/>
<line x1="270.30" y1="315.20" x2="270.30" y2="318.30" stroke="#111" stroke-width="0.9"/>
<line x1="285.40" y1="315.20" x2="285.40" y2="318.30" stroke="#111" stroke-width="0.9"/>
<text x="246.40" y="313.00" font-size="6.2" text-anchor="middle" fill="#151515" style="stroke-width:0.1px">4 wk</text>
<text x="262.10" y="313.00" font-size="6.2" text-anchor="middle" fill="#151515" style="stroke-width:0.1px">4 wk</text>
<text x="277.90" y="313.00" font-size="6.2" text-anchor="middle" fill="#151515" style="stroke-width:0.1px">4 wk</text>
<path d="M255.20,321.4 C256.00,323.6 258.30,325.6 258.30,327.8 C258.30,329.9 256.80,331.1 255.20,331.1 C253.60,331.1 252.10,329.9 252.10,327.8 C252.10,325.6 254.40,323.6 255.20,321.4 Z" fill="#8e1b1f"/>
<path d="M270.30,321.4 C271.10,323.6 273.40,325.6 273.40,327.8 C273.40,329.9 271.90,331.1 270.30,331.1 C268.70,331.1 267.20,329.9 267.20,327.8 C267.20,325.6 269.50,323.6 270.30,321.4 Z" fill="#8e1b1f"/>
<path d="M285.40,321.4 C286.20,323.6 288.50,325.6 288.50,327.8 C288.50,329.9 287.00,331.1 285.40,331.1 C283.80,331.1 282.30,329.9 282.30,327.8 C282.30,325.6 284.60,323.6 285.40,321.4 Z" fill="#8e1b1f"/>
<g fill="#e3dfcb"><line x1="298.7" y1="309.5" x2="296.7" y2="325.0" stroke="#e3dfcb" stroke-width="1.9"/><circle cx="298.0" cy="308.6" r="1.3"/><circle cx="299.8" cy="309.0" r="1.2"/><circle cx="295.9" cy="325.6" r="1.2"/><circle cx="297.6" cy="326.0" r="1.1"/></g>
<rect x="367.95" y="275.60" width="11.90" height="55.20" fill="#9cb67e"/>
<rect x="367.95" y="330.80" width="11.90" height="3.10" fill="#3cb3e3"/>
<rect x="367.95" y="333.90" width="11.90" height="9.60" fill="#8c82c2"/>
<rect x="387.55" y="275.60" width="11.90" height="58.20" fill="#9cb67e"/>
<rect x="387.55" y="333.80" width="11.90" height="2.40" fill="#3cb3e3"/>
<rect x="387.55" y="336.20" width="11.90" height="7.30" fill="#8c82c2"/>
<rect x="407.15" y="275.60" width="11.90" height="49.00" fill="#9cb67e"/>
<rect x="407.15" y="324.60" width="11.90" height="3.60" fill="#3cb3e3"/>
<rect x="407.15" y="328.20" width="11.90" height="15.30" fill="#8c82c2"/>
<rect x="426.95" y="275.60" width="11.90" height="48.60" fill="#9cb67e"/>
<rect x="426.95" y="324.20" width="11.90" height="3.50" fill="#3cb3e3"/>
<rect x="426.95" y="327.70" width="11.90" height="15.80" fill="#8c82c2"/>
<line x1="373.50" y1="263.50" x2="373.50" y2="286.50" stroke="#1a1a1a" stroke-width="1.1"/>
<line x1="370.50" y1="263.50" x2="376.50" y2="263.50" stroke="#1a1a1a" stroke-width="1.1"/>
<line x1="370.50" y1="286.50" x2="376.50" y2="286.50" stroke="#1a1a1a" stroke-width="1.1"/>
<line x1="393.50" y1="268.50" x2="393.50" y2="281.20" stroke="#1a1a1a" stroke-width="1.1"/>
<line x1="390.50" y1="268.50" x2="396.50" y2="268.50" stroke="#1a1a1a" stroke-width="1.1"/>
<line x1="390.50" y1="281.20" x2="396.50" y2="281.20" stroke="#1a1a1a" stroke-width="1.1"/>
<line x1="413.10" y1="261.50" x2="413.10" y2="288.10" stroke="#1a1a1a" stroke-width="1.1"/>
<line x1="410.10" y1="261.50" x2="416.10" y2="261.50" stroke="#1a1a1a" stroke-width="1.1"/>
<line x1="410.10" y1="288.10" x2="416.10" y2="288.10" stroke="#1a1a1a" stroke-width="1.1"/>
<line x1="432.80" y1="265.80" x2="432.80" y2="283.50" stroke="#1a1a1a" stroke-width="1.1"/>
<line x1="429.80" y1="265.80" x2="435.80" y2="265.80" stroke="#1a1a1a" stroke-width="1.1"/>
<line x1="429.80" y1="283.50" x2="435.80" y2="283.50" stroke="#1a1a1a" stroke-width="1.1"/>
<line x1="373.70" y1="324.60" x2="373.70" y2="341.50" stroke="#1a1a1a" stroke-width="1.1"/>
<line x1="370.70" y1="324.60" x2="376.70" y2="324.60" stroke="#1a1a1a" stroke-width="1.1"/>
<line x1="370.70" y1="326.90" x2="376.70" y2="326.90" stroke="#1a1a1a" stroke-width="1.1"/>
<line x1="370.70" y1="333.80" x2="376.70" y2="333.80" stroke="#1a1a1a" stroke-width="1.1"/>
<line x1="370.70" y1="341.50" x2="376.70" y2="341.50" stroke="#1a1a1a" stroke-width="1.1"/>
<line x1="393.50" y1="330.80" x2="393.50" y2="340.00" stroke="#1a1a1a" stroke-width="1.1"/>
<line x1="390.50" y1="330.80" x2="396.50" y2="330.80" stroke="#1a1a1a" stroke-width="1.1"/>
<line x1="390.50" y1="331.80" x2="396.50" y2="331.80" stroke="#1a1a1a" stroke-width="1.1"/>
<line x1="390.50" y1="335.80" x2="396.50" y2="335.80" stroke="#1a1a1a" stroke-width="1.1"/>
<line x1="390.50" y1="340.00" x2="396.50" y2="340.00" stroke="#1a1a1a" stroke-width="1.1"/>
<line x1="413.10" y1="314.60" x2="413.10" y2="340.00" stroke="#1a1a1a" stroke-width="1.1"/>
<line x1="410.10" y1="314.60" x2="416.10" y2="314.60" stroke="#1a1a1a" stroke-width="1.1"/>
<line x1="410.10" y1="316.90" x2="416.10" y2="316.90" stroke="#1a1a1a" stroke-width="1.1"/>
<line x1="410.10" y1="321.50" x2="416.10" y2="321.50" stroke="#1a1a1a" stroke-width="1.1"/>
<line x1="410.10" y1="327.20" x2="416.10" y2="327.20" stroke="#1a1a1a" stroke-width="1.1"/>
<line x1="410.10" y1="340.00" x2="416.10" y2="340.00" stroke="#1a1a1a" stroke-width="1.1"/>
<line x1="432.80" y1="317.40" x2="432.80" y2="334.60" stroke="#1a1a1a" stroke-width="1.1"/>
<line x1="429.80" y1="317.40" x2="435.80" y2="317.40" stroke="#1a1a1a" stroke-width="1.1"/>
<line x1="429.80" y1="318.40" x2="435.80" y2="318.40" stroke="#1a1a1a" stroke-width="1.1"/>
<line x1="429.80" y1="326.90" x2="435.80" y2="326.90" stroke="#1a1a1a" stroke-width="1.1"/>
<line x1="429.80" y1="334.60" x2="435.80" y2="334.60" stroke="#1a1a1a" stroke-width="1.1"/>
<line x1="392.60" y1="298.10" x2="447.30" y2="283.30" stroke="#1a1a1a" stroke-width="1.1"/>
<line x1="431.30" y1="295.40" x2="447.30" y2="283.30" stroke="#1a1a1a" stroke-width="1.1"/>
<circle cx="449.6" cy="282.3" r="1.0" fill="#151515"/>
<line x1="393.50" y1="340.20" x2="446.50" y2="323.80" stroke="#1a1a1a" stroke-width="1.1"/>
<line x1="434.30" y1="336.20" x2="446.50" y2="323.80" stroke="#1a1a1a" stroke-width="1.1"/>
<circle cx="448.9" cy="322.4" r="1.0" fill="#151515"/>
<line x1="360.50" y1="260.20" x2="360.50" y2="344.00" stroke="#111" stroke-width="1.1"/>
<line x1="360.00" y1="343.50" x2="445.60" y2="343.50" stroke="#111" stroke-width="1.0"/>
<line x1="357.50" y1="343.50" x2="360.50" y2="343.50" stroke="#111" stroke-width="0.9"/>
<text x="354.60" y="346.20" font-size="7.6" text-anchor="end" fill="#151515" >0</text>
<line x1="358.90" y1="336.64" x2="360.50" y2="336.64" stroke="#111" stroke-width="0.7"/>
<line x1="357.50" y1="329.79" x2="360.50" y2="329.79" stroke="#111" stroke-width="0.9"/>
<text x="354.60" y="332.49" font-size="7.6" text-anchor="end" fill="#151515" >20</text>
<line x1="358.90" y1="322.94" x2="360.50" y2="322.94" stroke="#111" stroke-width="0.7"/>
<line x1="357.50" y1="316.08" x2="360.50" y2="316.08" stroke="#111" stroke-width="0.9"/>
<text x="354.60" y="318.78" font-size="7.6" text-anchor="end" fill="#151515" >40</text>
<line x1="358.90" y1="309.23" x2="360.50" y2="309.23" stroke="#111" stroke-width="0.7"/>
<line x1="357.50" y1="302.37" x2="360.50" y2="302.37" stroke="#111" stroke-width="0.9"/>
<text x="354.60" y="305.07" font-size="7.6" text-anchor="end" fill="#151515" >60</text>
<line x1="358.90" y1="295.51" x2="360.50" y2="295.51" stroke="#111" stroke-width="0.7"/>
<line x1="357.50" y1="288.66" x2="360.50" y2="288.66" stroke="#111" stroke-width="0.9"/>
<text x="354.60" y="291.36" font-size="7.6" text-anchor="end" fill="#151515" >80</text>
<line x1="358.90" y1="281.81" x2="360.50" y2="281.81" stroke="#111" stroke-width="0.7"/>
<line x1="357.50" y1="274.95" x2="360.50" y2="274.95" stroke="#111" stroke-width="0.9"/>
<text x="354.60" y="277.65" font-size="7.6" text-anchor="end" fill="#151515" >100</text>
<line x1="358.90" y1="268.10" x2="360.50" y2="268.10" stroke="#111" stroke-width="0.7"/>
<line x1="357.50" y1="261.24" x2="360.50" y2="261.24" stroke="#111" stroke-width="0.9"/>
<text x="354.60" y="263.94" font-size="7.6" text-anchor="end" fill="#151515" >120</text>
<line x1="373.90" y1="343.50" x2="373.90" y2="345.90" stroke="#111" stroke-width="0.9"/>
<line x1="393.50" y1="343.50" x2="393.50" y2="345.90" stroke="#111" stroke-width="0.9"/>
<line x1="413.10" y1="343.50" x2="413.10" y2="345.90" stroke="#111" stroke-width="0.9"/>
<line x1="432.90" y1="343.50" x2="432.90" y2="345.90" stroke="#111" stroke-width="0.9"/>
<text transform="translate(334.8,331.0) rotate(-90)" font-size="8.6" font-weight="bold" fill="#151515" textLength="61" lengthAdjust="spacingAndGlyphs">% Colony distribution</text>
<rect x="460.40" y="286.50" width="5.60" height="5.60" fill="#9cb67e"/>
<text x="469.40" y="292.10" font-size="7.7" text-anchor="start" fill="#151515" style="stroke-width:0.1px">CFU-GEMM</text>
<rect x="460.40" y="298.00" width="5.60" height="5.60" fill="#3cb3e3"/>
<text x="469.40" y="303.60" font-size="7.7" text-anchor="start" fill="#151515" style="stroke-width:0.1px">BFU-E</text>
<rect x="460.40" y="309.20" width="5.60" height="5.60" fill="#8c82c2"/>
<text x="469.40" y="314.80" font-size="7.7" text-anchor="start" fill="#151515" style="stroke-width:0.1px">CFU-GM</text>
<text transform="translate(375.50,351.90) rotate(-45)" font-size="7.8" text-anchor="end" fill="#151515">vehicle</text>
<text transform="translate(395.10,351.90) rotate(-45)" font-size="7.8" text-anchor="end" fill="#151515">NT vector</text>
<text transform="translate(414.70,351.90) rotate(-45)" font-size="7.8" text-anchor="end" fill="#151515">tdTomato<tspan font-size="4.6" dy="-2.6">−</tspan></text>
<text transform="translate(434.50,351.90) rotate(-45)" font-size="7.8" text-anchor="end" fill="#151515">tdTomato<tspan font-size="4.6" dy="-2.6">+</tspan></text>
<rect x="0.5" y="0.5" width="519" height="388" fill="none" stroke="#505050" stroke-width="1.15"/>
</svg></body></html>
